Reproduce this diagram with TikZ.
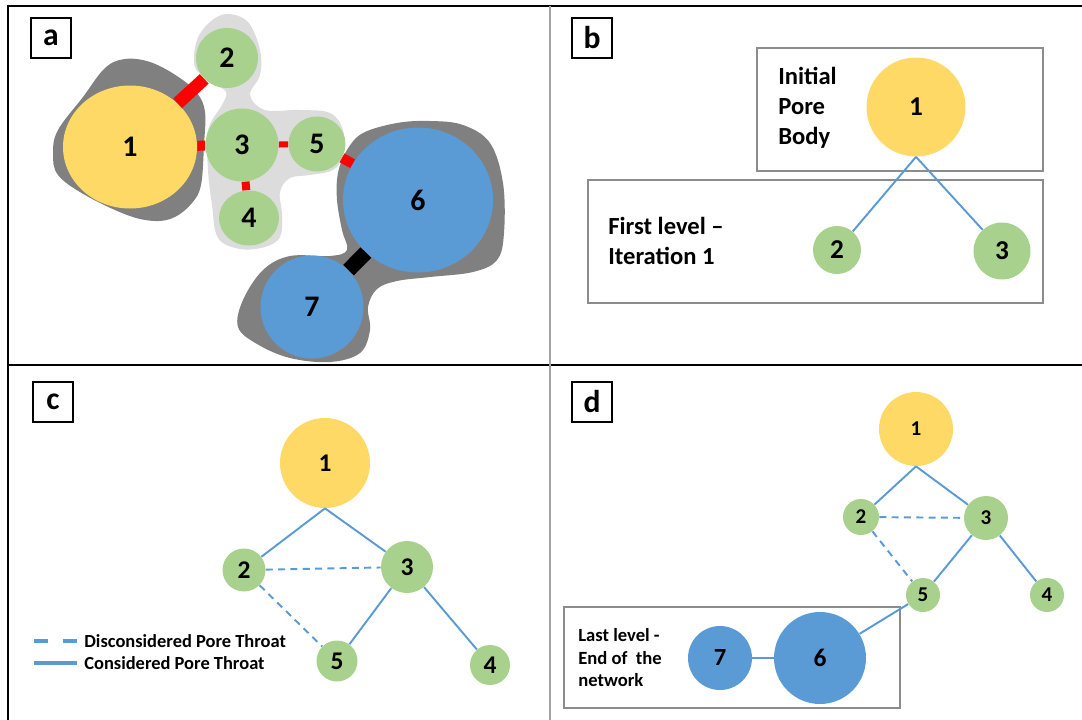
\documentclass[tikz,border=0pt]{standalone}
\usepackage{fontspec}
\setmainfont{Carlito}
\usepackage{tikz}
\usetikzlibrary{shapes.geometric}
\definecolor{pnYellow}{HTML}{FFD966}
\definecolor{pnGreen}{HTML}{A9D18E}
\definecolor{pnBlue}{HTML}{5B9BD5}
\definecolor{pnLine}{HTML}{5B9BD5}
\definecolor{pnRock}{HTML}{808080}
\definecolor{pnRockLight}{HTML}{DCDCDC}
\definecolor{pnRed}{HTML}{FF0000}
\definecolor{pnFrame}{HTML}{8C8C8C}
\newcommand{\pxu}{0.02cm}
\tikzset{
    pnBody/.style={
        circle,
        inner sep=0pt,
        draw=none,
        text=black
    },
    pnBodyA/.style={pnBody, ellipse, font=\fontsize{17pt}{20pt}\selectfont\bfseries},
    % Throats and links
    pnThroat/.style={draw=pnRed, line cap=butt},
    pnLink/.style={draw=pnLine, line width=1.1pt},
    pnSkip/.style={pnLink, dash pattern=on 4pt off 3pt},
    pnLegend/.style={draw=pnLine, line width=2.2pt},
    % Frames and text
    pnRule/.style={draw=black, line width=1.1pt},
    pnBoxLine/.style={draw=pnFrame, line width=0.8pt},
    pnTag/.style={
        draw=black,
        line width=1pt,
        minimum size=40*\pxu,
        inner sep=0pt,
        font=\fontsize{18pt}{20pt}\selectfont\bfseries
    },
    pnNote/.style={
        font=\fontsize{14pt}{17pt}\selectfont\bfseries,
        align=left,
        inner sep=0pt,
        anchor=west
    },
    pnLegText/.style={font=\fontsize{10.5pt}{12pt}\selectfont\bfseries, inner sep=0pt, anchor=west}
}

\begin{document}
\begin{tikzpicture}[x=\pxu, y=-\pxu]
    \useasboundingbox (0,0) rectangle (1082,720);

    % panel frame
    \draw[pnRule] (8,720) -- (8,6) -- (1082,6);
    \draw[pnRule, line width=0.8pt] (8,365) -- (1082,365);
    \draw[pnRule, draw=pnFrame!80, line width=1.5pt] (550,6) -- (550,720);

    \foreach \t/\x/\y in {a/51/38, b/592/38, c/53/402, d/592/402} {
        \node[pnTag] (tag\t) at (\x,\y) {\t};
    }

    % (a) pore space
    \fill[pnRockLight] plot[smooth cycle, tension=0.6] coordinates {
        (227,14) (248,22) (260,50) (260,75) (250,95) (265,110) (300,110) (330,113)
        (343,130) (343,155) (333,170) (310,175) (290,178) (280,192) (282,215)
        (280,237) (265,247) (240,249) (218,238) (212,205) (208,170) (208,130)
        (222,105) (226,92) (212,82) (195,67) (197,40) (210,22)};
    \fill[pnRock] plot[smooth cycle, tension=0.6] coordinates {
        (53,153) (58,130) (83,97) (105,68) (125,59) (150,62) (177,76) (197,93)
        (205,112) (204,145) (201,185) (192,203) (175,217) (155,221) (127,215)
        (85,195) (58,175)};
    \fill[pnRock] plot[smooth cycle, tension=0.6] coordinates {
        (347,150) (363,133) (397,123) (430,121) (463,125) (490,143) (503,183)
        (504,233) (497,260) (473,272) (430,277) (397,281) (377,289) (368,307)
        (370,330) (360,353) (330,362) (290,358) (257,344) (238,327) (243,300)
        (263,270) (290,256) (330,256) (347,250) (342,230) (337,200) (338,173)};
    \foreach \n/\cx/\cy/\w/\h/\col in {1/130/147/134/123/pnYellow, 2/227/58/62/60/pnGreen,
            3/242/145/73/73/pnGreen, 4/249/218/60/55/pnGreen, 5/317/144/57/55/pnGreen,
            6/418/200/150/145/pnBlue, 7/312/307/103/103/pnBlue} {
        \node[pnBodyA, fill=\col, minimum width=\w*\pxu, minimum height=\h*\pxu] (a\n) at (\cx,\cy) {\n};
    }
    \draw[pnThroat, line width=13*\pxu] (a1) -- (a2);
    \draw[pnThroat, line width=10*\pxu] (a1) -- (a3);
    \draw[pnThroat, line width=6*\pxu] (a3) -- (a5);
    \draw[pnThroat, line width=8*\pxu] (a3) -- (a4);
    \draw[pnThroat, line width=10*\pxu] (a5) -- (a6);
    \draw[pnThroat, draw=black, line width=15*\pxu] (a6) -- (a7);

    % (b) first level
    \draw[pnBoxLine] (757,48) rectangle (1043,171);
    \draw[pnBoxLine] (588,180) rectangle (1043,303);
    \foreach \n/\cx/\cy/\d/\col in {1/916/107/99/pnYellow, 2/837/250/48/pnGreen, 3/1002/251/57/pnGreen} {
        \node[pnBody, fill=\col, minimum size=\d*\pxu, font=\fontsize{15.5pt}{18pt}\selectfont\bfseries] (b\n) at (\cx,\cy) {\n};
    }
    \draw[pnLink] (b1.south) -- (b2);
    \draw[pnLink] (b1.south) -- (b3);
    \node[pnNote] (bNoteTop) at (778,108) {Initial\\Pore\\Body};
    \node[pnNote] (bNoteLow) at (608,241) {First level --\\Iteration 1};

    % (c) second level
    \foreach \n/\cx/\cy/\d/\col in {1/325/463/90/pnYellow, 2/244/570/43/pnGreen, 3/407/567/52/pnGreen,
            4/490/665/40/pnGreen, 5/337/661/41/pnGreen} {
        \node[pnBody, fill=\col, minimum size=\d*\pxu, font=\fontsize{14.5pt}{17pt}\selectfont\bfseries] (c\n) at (\cx,\cy) {\n};
    }
    \draw[pnLink] (c1.south) -- (c2);
    \draw[pnLink] (c1.south) -- (c3);
    \draw[pnSkip] (c2) -- (c3);
    \draw[pnSkip] (c2) -- (c5);
    \draw[pnLink] (c3) -- (c5);
    \draw[pnLink] (c3) -- (c4);
    \coordinate (legSkipA) at (34,641);
    \coordinate (legSkipB) at (77,641);
    \coordinate (legKeepA) at (34,663);
    \coordinate (legKeepB) at (77,663);
    \draw[pnLegend, dash pattern=on 8pt off 8.5pt] (legSkipA) -- (legSkipB);
    \draw[pnLegend] (legKeepA) -- (legKeepB);
    \node[pnLegText] (legSkip) at (84,641) {Disconsidered Pore Throat};
    \node[pnLegText] (legKeep) at (84,663) {Considered Pore Throat};

    % (d) last level
    \draw[pnBoxLine] (564,607) rectangle (900,708);
    \foreach \n/\cx/\cy/\d/\col/\fs in {1/916/429/74/pnYellow/12, 2/861/517/36/pnGreen/12, 3/986/518/44/pnGreen/12,
            4/1047/595/34/pnGreen/12, 5/923/595/34/pnGreen/12, 6/820/658/92/pnBlue/14.5, 7/720/658/64/pnBlue/14} {
        \node[pnBody, fill=\col, minimum size=\d*\pxu, font=\fontsize{\fs pt}{16pt}\selectfont\bfseries] (d\n) at (\cx,\cy) {\n};
    }
    \draw[pnLink] (d1.south) -- (d2);
    \draw[pnLink] (d1.south) -- (d3);
    \draw[pnSkip] (d2) -- (d3);
    \draw[pnSkip] (d2) -- (d5);
    \draw[pnLink] (d3) -- (d5);
    \draw[pnLink] (d3) -- (d4);
    \draw[pnLink] (d5) -- (d6);
    \draw[pnLink] (d7) -- (d6);
    \node[pnNote, font=\fontsize{10.6pt}{12.8pt}\selectfont\bfseries] (dNote) at (578,658) {Last level -\\End of\ \ the\\network};
\end{tikzpicture}
\end{document}
